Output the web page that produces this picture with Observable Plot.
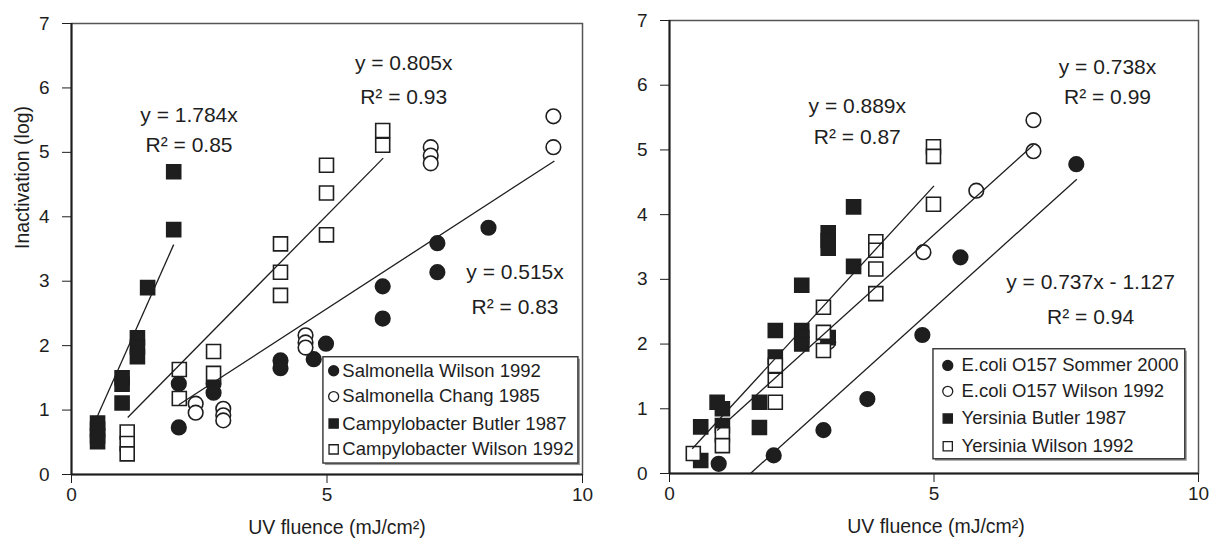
<!DOCTYPE html>
<html>
<head>
<meta charset="utf-8">
<script src="https://cdn.jsdelivr.net/npm/d3@7"></script>
<script src="https://cdn.jsdelivr.net/npm/@observablehq/plot@0.6"></script>
<style>
  html, body { margin: 0; padding: 0; background: #fff; }
  #charts { display: flex; width: 1215px; height: 543px; }
  #charts svg { display: block; }
</style>
</head>
<body>
<div id="charts"></div>
<script>
// ---- Left panel: Salmonella and Campylobacter ----
const salmonellaWilson = [
  [2.1, 1.41], [2.1, 0.73], [2.78, 1.41], [2.78, 1.27], [4.09, 1.77], [4.09, 1.65],
  [4.74, 1.79], [4.98, 2.03], [6.09, 2.92], [6.09, 2.42], [7.16, 3.59], [7.16, 3.14], [8.16, 3.83]
];
const salmonellaChang = [
  [2.43, 1.1], [2.43, 0.96], [2.97, 1.02], [2.97, 0.92], [2.97, 0.84],
  [4.58, 2.16], [4.58, 2.05], [4.58, 1.97], [7.03, 5.08], [7.03, 4.95], [7.03, 4.83],
  [9.43, 5.56], [9.43, 5.08]
];
const campyButler = [
  [0.51, 0.8], [0.51, 0.7], [0.51, 0.6], [0.51, 0.51], [0.99, 1.5], [0.99, 1.4], [0.99, 1.11],
  [1.29, 2.12], [1.29, 1.98], [1.29, 1.83], [1.49, 2.9], [2.0, 3.8], [2.0, 4.7]
];
const campyWilson = [
  [1.09, 0.66], [1.09, 0.48], [1.09, 0.32], [2.11, 1.63], [2.11, 1.18], [2.78, 1.91], [2.78, 1.57],
  [4.09, 3.58], [4.09, 3.14], [4.09, 2.78], [4.99, 4.8], [4.99, 4.37], [4.99, 3.72],
  [6.09, 5.34], [6.09, 5.11]
];
const leftNames = ["Salmonella Wilson 1992", "Salmonella Chang 1985", "Campylobacter Butler 1987", "Campylobacter Wilson 1992"];
// regression fits: slope, intercept, R², fitted dose range
const leftFits = [
  {slope: 1.784, intercept: 0, r2: 0.85, from: 0.5, to: 2.0},
  {slope: 0.805, intercept: 0, r2: 0.93, from: 1.1, to: 6.1},
  {slope: 0.515, intercept: 0, r2: 0.83, from: 2.1, to: 9.45}
];

// ---- Right panel: E. coli O157 and Yersinia ----
const ecoliSommer = [
  [0.93, 0.15], [1.97, 0.28], [2.91, 0.67], [3.74, 1.15], [4.78, 2.14], [5.5, 3.34], [7.69, 4.78]
];
const ecoliWilson = [
  [3.0, 2.03], [4.8, 3.42], [5.8, 4.37], [6.88, 4.98], [6.88, 5.46]
];
const yersiniaButler = [
  [0.59, 0.2], [0.59, 0.72], [0.9, 1.1], [1.0, 1.0], [1.0, 0.74], [1.7, 1.1], [1.7, 0.71],
  [2.0, 2.21], [2.0, 1.8], [2.5, 2.91], [2.5, 2.21], [2.5, 2.1], [2.5, 2.0],
  [3.0, 3.72], [3.0, 3.6], [3.0, 3.48], [3.0, 2.1], [3.48, 4.12], [3.48, 3.2]
];
const yersiniaWilson = [
  [0.45, 0.31], [1.0, 0.6], [1.0, 0.43], [2.0, 1.67], [2.0, 1.44], [2.0, 1.1],
  [2.91, 2.57], [2.91, 2.18], [2.91, 1.9], [3.9, 3.58], [3.9, 3.45], [3.9, 3.16], [3.9, 2.78],
  [4.99, 5.05], [4.99, 4.9], [4.99, 4.16]
];
const rightNames = ["E.coli O157 Sommer 2000", "E.coli O157 Wilson 1992", "Yersinia Butler 1987", "Yersinia Wilson 1992"];
const rightFits = [
  {slope: 0.889, intercept: 0, r2: 0.87, from: 0.43, to: 5.0},
  {slope: 0.738, intercept: 0, r2: 0.99, from: 0.9, to: 6.88},
  {slope: 0.737, intercept: -1.127, r2: 0.94, from: 1.53, to: 7.7}
];

const xTicks = [0, 5, 10];
const yTicks = [0, 1, 2, 3, 4, 5, 6, 7];

const INK = "#1e1e1e";
const FONT = "'Liberation Sans', Arial, Helvetica, sans-serif";

// marker styles in legend order: filled circle, open circle, filled square, open square
const styles = [
  {symbol: "circle", fill: INK, stroke: INK},
  {symbol: "circle", fill: "white", stroke: INK},
  {symbol: "square", fill: INK, stroke: INK},
  {symbol: "square", fill: "white", stroke: INK}
];

function equation(f) {
  const b = f.intercept === 0 ? "" : (f.intercept < 0 ? " - " : " + ") + Math.abs(f.intercept).toFixed(3);
  return `y = ${f.slope.toFixed(3)}x${b}`;
}

function panel({width, margins, series, names, fits, notes, legendBox, legendRows, legendSymX, legendTextX, yTitle, titleShift}) {
  const [mt, mr, mb, ml] = margins;
  const marks = [
    Plot.frame({stroke: "#555", strokeWidth: 1.5}),
    Plot.ruleX([0], {stroke: INK, strokeWidth: 2}),
    Plot.ruleY([0], {stroke: INK, strokeWidth: 2}),
    Plot.axisY({ticks: yTicks, tickSize: 9, tickPadding: 13, fontSize: 19, label: null, tickFormat: d => d}),
    Plot.axisX({ticks: xTicks, tickSize: 9, tickPadding: 4, fontSize: 19, label: null, tickFormat: d => d}),
    Plot.text(["UV fluence (mJ/cm\u00b2)"], {frameAnchor: "bottom", lineAnchor: "middle", dx: titleShift, dy: 53, fontSize: 19.5, fill: INK})
  ];
  if (yTitle) {
    marks.push(Plot.text([yTitle], {frameAnchor: "left", rotate: -90, dx: -49, lineAnchor: "middle", fontSize: 19.5, fill: INK}));
  }
  // data points
  series.forEach((pts, i) => {
    const s = styles[i];
    marks.push(Plot.dot(pts, {
      x: d => d[0], y: d => d[1], symbol: s.symbol, r: s.symbol === "circle" ? 7.3 : 7.9,
      fill: s.fill, stroke: s.stroke, strokeWidth: 1.6
    }));
  });
  // fitted lines drawn over the points
  marks.push(Plot.link(fits, {
    x1: d => d.from, y1: d => d.slope * d.from + d.intercept,
    x2: d => d.to, y2: d => d.slope * d.to + d.intercept,
    stroke: INK, strokeWidth: 1.3
  }));
  // equation and R² labels
  marks.push(Plot.text(notes, {x: d => d.x, y: d => d.y, text: d => equation(fits[d.fit]), fontSize: 21, fill: INK}));
  marks.push(Plot.text(notes, {x: d => d.x, y: d => d.y2, text: d => `R\u00b2 = ${fits[d.fit].r2.toFixed(2)}`, fontSize: 21, fill: INK}));
  // legend box
  marks.push(Plot.rect([legendBox], {x1: d => d.x1, x2: d => d.x2, y1: d => d.y1, y2: d => d.y2, fill: "#999", dx: 2, dy: 2}));
  marks.push(Plot.rect([legendBox], {x1: d => d.x1, x2: d => d.x2, y1: d => d.y1, y2: d => d.y2, fill: "white", stroke: "#333", strokeWidth: 1.4}));
  names.forEach((name, i) => {
    const s = styles[i];
    marks.push(Plot.dot([name], {x: () => legendSymX, y: () => legendRows[i], symbol: s.symbol, r: s.symbol === "circle" ? 5 : 5.2, fill: s.fill, stroke: s.stroke, strokeWidth: 1.3}));
    marks.push(Plot.text([name], {x: () => legendTextX, y: () => legendRows[i], text: d => d, textAnchor: "start", fontSize: 18.5, fill: INK}));
  });
  return Plot.plot({
    width, height: 543,
    marginTop: mt, marginRight: mr, marginBottom: mb, marginLeft: ml,
    style: {fontFamily: FONT, color: INK, background: "white", overflow: "visible"},
    x: {domain: [0, 10]},
    y: {domain: [0, 7]},
    marks
  });
}

const left = panel({
  width: 600,
  margins: [23, 18, 69, 71],
  series: [salmonellaWilson, salmonellaChang, campyButler, campyWilson],
  names: leftNames,
  fits: leftFits,
  notes: [
    {fit: 0, x: 2.3, y: 5.57, y2: 5.11},
    {fit: 1, x: 6.5, y: 6.38, y2: 5.85},
    {fit: 2, x: 8.68, y: 3.14, y2: 2.59}
  ],
  legendBox: {x1: 4.93, x2: 9.92, y1: 1.82, y2: 0.17},
  legendRows: [1.61, 1.21, 0.79, 0.39],
  legendSymX: 5.13,
  legendTextX: 5.3,
  yTitle: "Inactivation (log)",
  titleShift: 10
});

const right = panel({
  width: 615,
  margins: [20, 17, 70, 69],
  series: [ecoliSommer, ecoliWilson, yersiniaButler, yersiniaWilson],
  names: rightNames,
  fits: rightFits,
  notes: [
    {fit: 0, x: 3.55, y: 5.68, y2: 5.19},
    {fit: 1, x: 8.28, y: 6.28, y2: 5.82},
    {fit: 2, x: 7.96, y: 2.96, y2: 2.41}
  ],
  legendBox: {x1: 4.99, x2: 9.75, y1: 1.92, y2: 0.22},
  legendRows: [1.67, 1.27, 0.85, 0.42],
  legendSymX: 5.26,
  legendTextX: 5.52,
  yTitle: null,
  titleShift: 2
});

document.getElementById("charts").append(left, right);
</script>
</body>
</html>
